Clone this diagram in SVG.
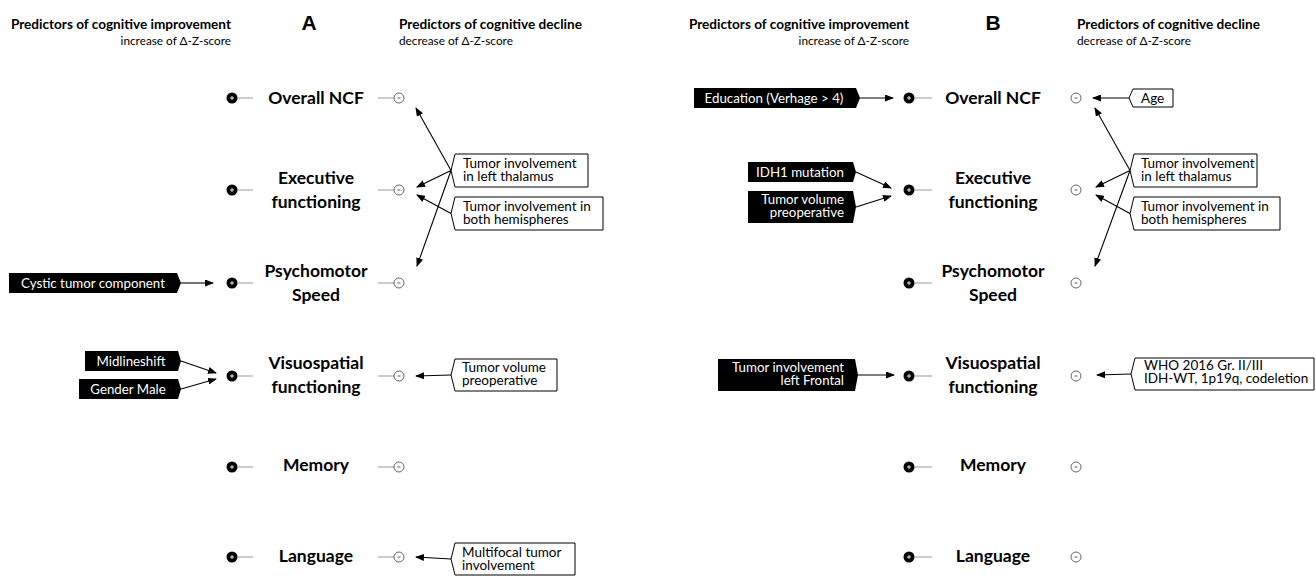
<svg xmlns="http://www.w3.org/2000/svg" width="1316" height="577" viewBox="0 0 1316 577">
<defs>
<marker id="ah" markerUnits="userSpaceOnUse" markerWidth="9" markerHeight="7" refX="8" refY="3.5" orient="auto">
<path d="M0,0 L9,3.5 L0,7 z" fill="#000"/>
</marker>
<g id="plus"><circle r="5.5" fill="#000"/><path d="M-2,0 H2 M0,-2 V2" stroke="#fff" stroke-width="0.9"/></g>
<g id="minus"><circle r="5" fill="#fff" stroke="#555" stroke-width="0.9"/><path d="M-1.5,0 H1.5" stroke="#333" stroke-width="0.8"/></g>
</defs>
<style>
text{font-family:Lato,"Open Sans","Liberation Sans",sans-serif;}
.hdr{font-weight:bold;font-size:13.6px;fill:#000}
.sub{font-size:11.8px;fill:#000}
.big{font-family:"Liberation Sans",Arial,sans-serif;font-weight:bold;font-size:21px}
.lbl{font-weight:bold;font-size:17.5px;text-anchor:middle;fill:#000}
.tick{stroke:#999;stroke-width:1}
.wbox{fill:#fff;stroke:#000;stroke-width:1}
.bbox{fill:#000}
.bt{font-size:13.5px;fill:#000}
.wt{font-size:13.3px;fill:#fff}
.con{stroke:#000;stroke-width:1.1;fill:none;marker-end:url(#ah)}
</style>
<rect width="1316" height="577" fill="#fff"/>

<!-- headers -->
<g id="headers">
<text class="hdr" x="231" y="29" text-anchor="end">Predictors of cognitive improvement</text>
<text class="sub" x="231" y="45" text-anchor="end">increase of Δ-Z-score</text>
<text class="big" x="309" y="30" text-anchor="middle">A</text>
<text class="hdr" x="399" y="29">Predictors of cognitive decline</text>
<text class="sub" x="399" y="45">decrease of Δ-Z-score</text>
<text class="hdr" x="909" y="29" text-anchor="end">Predictors of cognitive improvement</text>
<text class="sub" x="909" y="45" text-anchor="end">increase of Δ-Z-score</text>
<text class="big" x="993" y="30" text-anchor="middle">B</text>
<text class="hdr" x="1077" y="29">Predictors of cognitive decline</text>
<text class="sub" x="1077" y="45">decrease of Δ-Z-score</text>
</g>

<!-- Panel A outcome nodes -->
<g id="a-overall">
<line class="tick" x1="238" y1="98" x2="253" y2="98"/><line class="tick" x1="378" y1="98" x2="394" y2="98"/>
<use href="#plus" x="232" y="98"/><use href="#minus" x="399" y="98"/>
<text class="lbl" x="316" y="104">Overall NCF</text>
</g>
<g id="a-executive">
<line class="tick" x1="238" y1="190" x2="253" y2="190"/><line class="tick" x1="378" y1="190" x2="394" y2="190"/>
<use href="#plus" x="232" y="190"/><use href="#minus" x="399" y="190"/>
<text class="lbl" x="316" y="184">Executive</text><text class="lbl" x="316" y="208">functioning</text>
</g>
<g id="a-psychomotor">
<line class="tick" x1="238" y1="283" x2="253" y2="283"/><line class="tick" x1="378" y1="283" x2="394" y2="283"/>
<use href="#plus" x="232" y="283"/><use href="#minus" x="399" y="283"/>
<text class="lbl" x="316" y="277">Psychomotor</text><text class="lbl" x="316" y="301">Speed</text>
</g>
<g id="a-visuospatial">
<line class="tick" x1="238" y1="376" x2="253" y2="376"/><line class="tick" x1="378" y1="376" x2="394" y2="376"/>
<use href="#plus" x="232" y="376"/><use href="#minus" x="399" y="376"/>
<text class="lbl" x="316" y="369">Visuospatial</text><text class="lbl" x="316" y="393">functioning</text>
</g>
<g id="a-memory">
<line class="tick" x1="238" y1="467" x2="253" y2="467"/><line class="tick" x1="378" y1="467" x2="394" y2="467"/>
<use href="#plus" x="232" y="467"/><use href="#minus" x="399" y="467"/>
<text class="lbl" x="316" y="471">Memory</text>
</g>
<g id="a-language">
<line class="tick" x1="238" y1="557" x2="253" y2="557"/><line class="tick" x1="378" y1="557" x2="394" y2="557"/>
<use href="#plus" x="232" y="557"/><use href="#minus" x="399" y="557"/>
<text class="lbl" x="316" y="562">Language</text>
</g>

<!-- Panel A predictors -->
<g id="a-thalamus">
<path class="wbox" d="M455,154 H588 V187 H455 L451,170.5 Z"/>
<text class="bt" x="463" y="168">Tumor involvement</text><text class="bt" x="463" y="180.5">in left thalamus</text>
</g>
<g id="a-hemispheres">
<path class="wbox" d="M455,197 H603 V230 H455 L451,213.5 Z"/>
<text class="bt" x="463" y="211">Tumor involvement in</text><text class="bt" x="463" y="223.5">both hemispheres</text>
</g>
<g id="a-tumorvolume">
<path class="wbox" d="M455,359 H557 V391 H455 L451,375 Z"/>
<text class="bt" x="462" y="372">Tumor volume</text><text class="bt" x="462" y="384.5">preoperative</text>
</g>
<g id="a-multifocal">
<path class="wbox" d="M455,543 H575 V575 H455 L451,559 Z"/>
<text class="bt" x="462" y="557">Multifocal tumor</text><text class="bt" x="462" y="569.5">involvement</text>
</g>
<g id="a-cystic">
<path class="bbox" d="M9,273 H177 L181,283 L177,293 H9 Z"/>
<text class="wt" x="93" y="287.5" text-anchor="middle">Cystic tumor component</text>
</g>
<g id="a-midline">
<path class="bbox" d="M85,351 H178 L181,361 L178,371 H85 Z"/>
<text class="wt" x="131" y="365.5" text-anchor="middle">Midlineshift</text>
</g>
<g id="a-gender">
<path class="bbox" d="M79,379 H178 L181,389 L178,399 H79 Z"/>
<text class="wt" x="128" y="393.5" text-anchor="middle">Gender Male</text>
</g>

<!-- Panel B outcome nodes -->
<g id="b-overall">
<line class="tick" x1="915" y1="98" x2="932" y2="98"/>
<use href="#plus" x="909" y="98"/><use href="#minus" x="1076" y="98"/>
<text class="lbl" x="993" y="104">Overall NCF</text>
</g>
<g id="b-executive">
<line class="tick" x1="915" y1="190" x2="932" y2="190"/>
<use href="#plus" x="909" y="190"/><use href="#minus" x="1076" y="190"/>
<text class="lbl" x="993" y="184">Executive</text><text class="lbl" x="993" y="208">functioning</text>
</g>
<g id="b-psychomotor">
<line class="tick" x1="915" y1="283" x2="932" y2="283"/>
<use href="#plus" x="909" y="283"/><use href="#minus" x="1076" y="283"/>
<text class="lbl" x="993" y="277">Psychomotor</text><text class="lbl" x="993" y="301">Speed</text>
</g>
<g id="b-visuospatial">
<line class="tick" x1="915" y1="376" x2="932" y2="376"/>
<use href="#plus" x="909" y="376"/><use href="#minus" x="1076" y="376"/>
<text class="lbl" x="993" y="369">Visuospatial</text><text class="lbl" x="993" y="393">functioning</text>
</g>
<g id="b-memory">
<line class="tick" x1="915" y1="467" x2="932" y2="467"/>
<use href="#plus" x="909" y="467"/><use href="#minus" x="1076" y="467"/>
<text class="lbl" x="993" y="471">Memory</text>
</g>
<g id="b-language">
<line class="tick" x1="915" y1="557" x2="932" y2="557"/>
<use href="#plus" x="909" y="557"/><use href="#minus" x="1076" y="557"/>
<text class="lbl" x="993" y="562">Language</text>
</g>

<!-- Panel B predictors -->
<g id="b-education">
<path class="bbox" d="M694,88 H856 L860,98 L856,108 H694 Z"/>
<text class="wt" x="774" y="102.5" text-anchor="middle">Education (Verhage &gt; 4)</text>
</g>
<g id="b-idh1">
<path class="bbox" d="M748,162 H853 L856,172 L853,182 H748 Z"/>
<text class="wt" x="800" y="176.5" text-anchor="middle">IDH1 mutation</text>
</g>
<g id="b-tumorvolume">
<path class="bbox" d="M748,191 H853 L856,207 L853,223 H748 Z"/>
<text class="wt" x="844" y="204" text-anchor="end">Tumor volume</text><text class="wt" x="844" y="216.5" text-anchor="end">preoperative</text>
</g>
<g id="b-frontal">
<path class="bbox" d="M718,359 H855 L858,375 L855,391 H718 Z"/>
<text class="wt" x="844" y="372" text-anchor="end">Tumor involvement</text><text class="wt" x="844" y="384.5" text-anchor="end">left Frontal</text>
</g>
<g id="b-age">
<path class="wbox" d="M1133,89 H1173 V107 H1133 L1129,98 Z"/>
<text class="bt" x="1141" y="102.5">Age</text>
</g>
<g id="b-thalamus">
<path class="wbox" d="M1134,154 H1257 V187 H1134 L1130,170.5 Z"/>
<text class="bt" x="1141" y="168">Tumor involvement</text><text class="bt" x="1141" y="180.5">in left thalamus</text>
</g>
<g id="b-hemispheres">
<path class="wbox" d="M1134,197 H1280 V230 H1134 L1130,213.5 Z"/>
<text class="bt" x="1141" y="211">Tumor involvement in</text><text class="bt" x="1141" y="223.5">both hemispheres</text>
</g>
<g id="b-who">
<path class="wbox" d="M1135,358 H1314 V390 H1135 L1131,374 Z"/>
<text class="bt" x="1144" y="370">WHO 2016 Gr. II/III</text><text class="bt" x="1144" y="382.5">IDH-WT, 1p19q, codeletion</text>
</g>

<!-- connectors -->
<g id="connectors">
<line class="con" x1="451" y1="170.5" x2="416" y2="108"/>
<line class="con" x1="451" y1="170.5" x2="417" y2="187"/>
<line class="con" x1="451" y1="170.5" x2="417" y2="266"/>
<line class="con" x1="451" y1="213.5" x2="417" y2="195"/>
<line class="con" x1="451" y1="375" x2="416" y2="376"/>
<line class="con" x1="451" y1="559" x2="416" y2="557"/>
<line class="con" x1="181" y1="283" x2="213" y2="283"/>
<line class="con" x1="181" y1="361" x2="216" y2="373"/>
<line class="con" x1="181" y1="389" x2="216" y2="379"/>

<line class="con" x1="860" y1="98" x2="893" y2="98"/>
<line class="con" x1="856" y1="172" x2="891" y2="188"/>
<line class="con" x1="856" y1="207" x2="891" y2="196"/>
<line class="con" x1="858" y1="375" x2="894" y2="375"/>
<line class="con" x1="1129" y1="98" x2="1093" y2="98"/>
<line class="con" x1="1130" y1="170.5" x2="1095" y2="108"/>
<line class="con" x1="1130" y1="170.5" x2="1096" y2="187"/>
<line class="con" x1="1130" y1="170.5" x2="1095" y2="266"/>
<line class="con" x1="1130" y1="213.5" x2="1096" y2="195"/>
<line class="con" x1="1131" y1="374" x2="1097" y2="375"/>
</g>
</svg>
